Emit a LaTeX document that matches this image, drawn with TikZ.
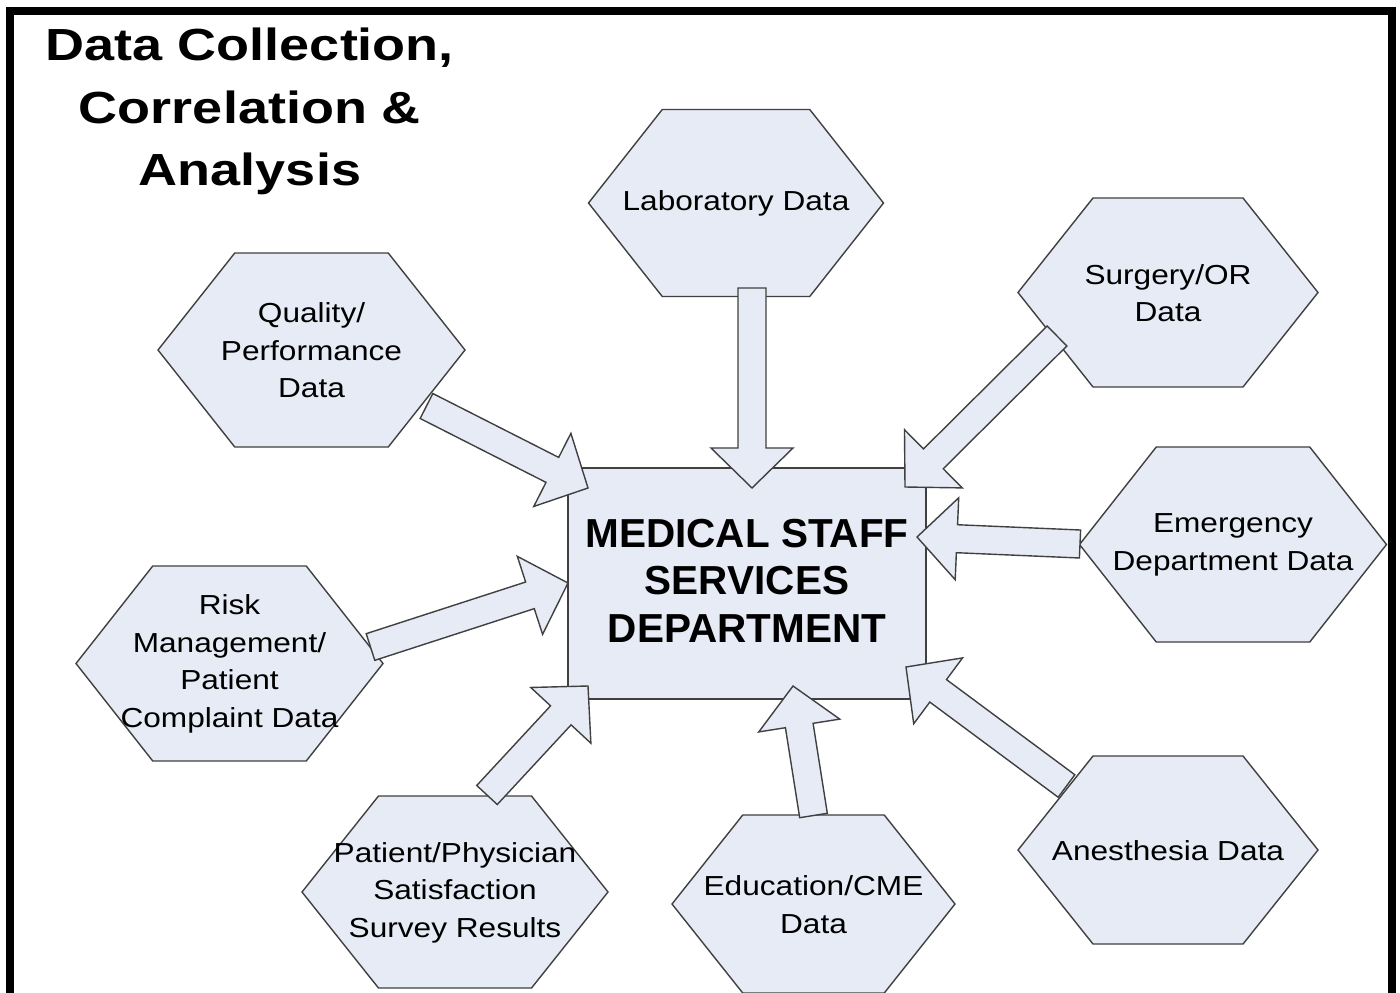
\documentclass[tikz,border=0pt]{standalone}
\usepackage{fontspec}
\setmainfont{Liberation Sans}
\newfontfamily\hexfont[FakeStretch=1.15]{Liberation Sans}
\newfontfamily\titlefont[FakeStretch=1.2]{Liberation Sans}
\usetikzlibrary{calc}
\definecolor{boxfill}{RGB}{230,235,246}
\definecolor{boxline}{RGB}{64,64,64}
\tikzset{
  shapeline/.style={draw=boxline, line width=1.4pt, fill=boxfill, line join=miter},
  hextext/.style={align=center, font=\hexfont\fontsize{27.5}{37.5}\selectfont, text=black, inner sep=0pt},
  centerbox/.style={shapeline, minimum width=358pt, minimum height=231pt, inner sep=0pt, align=center},
  centertext/.style={align=center, inner sep=0pt, font=\bfseries\fontsize{40.5}{47.5}\selectfont},
  titletext/.style={align=center, font=\titlefont\bfseries\fontsize{45}{62.5}\selectfont, inner sep=0pt},
  frame/.style={line width=8pt, draw=black, line join=miter},
}
% hexagon: name, x, y, w, h, text
\newcommand\hexagon[6]{%
  \path[shapeline] ({#2-#4/2},{#3}) -- ({#2-#4/4},{#3-#5/2}) -- ({#2+#4/4},{#3-#5/2})
    -- ({#2+#4/2},{#3}) -- ({#2+#4/4},{#3+#5/2}) -- ({#2-#4/4},{#3+#5/2}) -- cycle;
  \node[hextext] (#1) at (#2,{#3+0.5}) {#6};
}
% block arrow: id, from, to
\newcommand\fatarrow[3]{%
  \coordinate (#1c) at ($(#3)!40pt!(#2)$);
  \path[shapeline]
    ($(#2)!14pt!90:(#3)$) -- ($(#1c)!14pt!90:(#3)$) -- ($(#1c)!41pt!90:(#3)$) -- (#3)
    -- ($(#1c)!41pt!-90:(#3)$) -- ($(#1c)!14pt!-90:(#3)$) -- ($(#2)!14pt!-90:(#3)$) -- cycle;
}
\begin{document}
\begin{tikzpicture}[x=1pt,y=-1pt]
\useasboundingbox (0,0) rectangle (1400,993);
\fill[white] (0,0) rectangle (1400,993);
\draw[frame] (9.5,1010) -- (9.5,11) -- (1391.5,11) -- (1391.5,1010);

\node[titletext] (title) at (250,111.5) {Data Collection,\\Correlation \&\\Analysis};

\hexagon{lab}{736}{203}{295}{187}{Laboratory Data}
\hexagon{qual}{311.5}{350}{307}{194}{Quality/\\Performance\\Data}
\hexagon{surg}{1168}{292.5}{300}{189}{Surgery/OR\\Data}
\hexagon{emer}{1233}{544.5}{307}{195}{Emergency\\Department Data}
\hexagon{risk}{229.5}{663.5}{307}{195}{Risk\\Management/\\Patient\\Complaint Data}
\hexagon{pat}{455}{892}{306}{192}{Patient/Physician\\Satisfaction\\Survey Results}
\hexagon{edu}{813.5}{904}{283}{178}{Education/CME\\Data}
\hexagon{anes}{1168}{850}{300}{188}{Anesthesia Data}

\node[centerbox] (msd) at (747,583.5) {};
\node[centertext] (msdtext) at (747,580.5) {MEDICAL STAFF\\SERVICES\\DEPARTMENT};

\coordinate (labA) at (752,288);    \coordinate (labB) at (752,488);
\coordinate (qualA) at (426.5,406); \coordinate (qualB) at (588,488);
\coordinate (surgA) at (1057,336);  \coordinate (surgB) at (905,487);
\coordinate (emerA) at (1080,544);  \coordinate (emerB) at (917,537);
\coordinate (anesA) at (1066.5,786);\coordinate (anesB) at (906,667);
\coordinate (eduA) at (813.5,815.5);\coordinate (eduB) at (793,686);
\coordinate (patA) at (487,795);    \coordinate (patB) at (588,686);
\coordinate (riskA) at (370.5,647); \coordinate (riskB) at (568,583);

\fatarrow{la}{labA}{labB}
\fatarrow{qa}{qualA}{qualB}
\fatarrow{sa}{surgA}{surgB}
\fatarrow{ea}{emerA}{emerB}
\fatarrow{aa}{anesA}{anesB}
\fatarrow{da}{eduA}{eduB}
\fatarrow{pa}{patA}{patB}
\fatarrow{ra}{riskA}{riskB}
\end{tikzpicture}
\end{document}
